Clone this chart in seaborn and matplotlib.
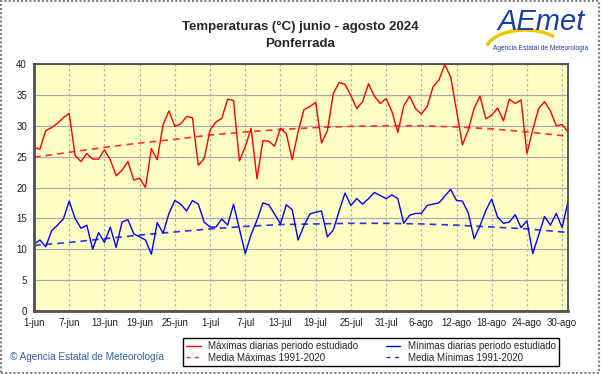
import numpy as np
import pandas as pd
import matplotlib
matplotlib.use('Agg')
import matplotlib.pyplot as plt
import seaborn as sns
from matplotlib.patches import Rectangle, Arc
from matplotlib.lines import Line2D

# ── Data ────────────────────────────────────────────────────
tmax = [26.5, 26.2, 29.2, 29.7, 30.4, 31.3, 32.0, 25.2, 24.2, 25.5,
        24.6, 24.6, 26.1, 24.5, 21.9, 22.8, 24.2, 21.2, 21.5, 20.0,
        26.3, 24.5, 30.2, 32.4, 29.9, 30.3, 31.5, 31.3, 23.6, 24.7,
        29.3, 30.6, 31.2, 34.3, 34.1, 24.3, 26.6, 29.6, 21.4, 27.6,
        27.5, 26.7, 29.6, 28.7, 24.5, 29.0, 32.6, 33.1, 33.8, 27.2,
        29.2, 35.2, 37.0, 36.7, 34.9, 32.8, 33.9, 36.8, 34.8, 33.6,
        34.4, 32.3, 28.9, 33.2, 34.8, 32.8, 31.9, 33.1, 36.3, 37.4,
        39.9, 37.9, 32.5, 26.9, 29.3, 32.8, 34.8, 31.1, 31.7, 32.9,
        30.8, 34.3, 33.6, 34.2, 25.5, 29.4, 32.8, 33.9, 32.4, 30.0,
        30.2, 29.0]
tmin = [10.8, 11.5, 10.4, 13.0, 13.9, 14.9, 17.8, 15.0, 13.4, 13.9,
        10.0, 12.7, 11.1, 13.6, 10.3, 14.4, 14.8, 12.5, 12.0, 11.5,
        9.2, 14.3, 12.6, 15.8, 17.9, 17.3, 16.2, 17.9, 17.3, 14.4,
        13.6, 13.6, 14.9, 13.9, 17.3, 13.3, 9.3, 12.4, 14.7, 17.5,
        17.2, 15.7, 14.1, 17.2, 16.4, 11.5, 13.8, 15.7, 16.0, 16.2,
        12.0, 13.1, 16.2, 19.1, 17.1, 18.2, 17.3, 18.2, 19.2, 18.7,
        18.2, 18.8, 18.2, 14.2, 15.5, 15.8, 15.8, 17.1, 17.3, 17.5,
        18.6, 19.7, 17.9, 17.8, 15.9, 11.7, 13.8, 16.3, 18.1, 15.2,
        14.2, 14.4, 15.6, 13.5, 14.6, 9.3, 12.3, 15.3, 13.9, 15.8,
        13.5, 17.7]

# climatological means 1991-2020, read at the tick days
clim_days = [0, 6, 12, 18, 24, 30, 36, 42, 48, 54, 60, 66, 72, 78, 84, 90, 91]
clim_max = [24.9, 25.7, 26.5, 27.2, 27.8, 28.5, 29.0, 29.4, 29.7, 29.9,
            30.0, 30.0, 29.8, 29.5, 29.0, 28.4, 28.3]
clim_min = [10.6, 11.1, 11.7, 12.3, 12.8, 13.3, 13.7, 14.0, 14.1, 14.2,
            14.2, 14.1, 13.9, 13.6, 13.3, 12.8, 12.7]

tick_labels = ['1-jun', '7-jun', '13-jun', '19-jun', '25-jun', '1-jul',
               '7-jul', '13-jul', '19-jul', '25-jul', '31-jul', '6-ago',
               '12-ago', '18-ago', '24-ago', '30-ago']

daily = pd.DataFrame({'day': np.arange(len(tmax)), 'tmax': tmax, 'tmin': tmin})
clim = pd.DataFrame({'day': clim_days, 'cmax': clim_max, 'cmin': clim_min})

# colours / styles
C_MAX, C_MIN = '#FF0000', '#0000FF'
C_CMAX, C_CMIN = '#FF3030', '#3030E8'
DASH = (0, (4, 3))

# ── Figure ──────────────────────────────────────────────────
sns.set_style('white')
plt.rcParams['font.family'] = ['Liberation Sans', 'DejaVu Sans']

W, H = 601, 374
fig = plt.figure(figsize=(W / 100, H / 100), dpi=100)
fig.patches.append(Rectangle((0.002, 0.003), 0.995, 0.993, transform=fig.transFigure,
                             fill=False, edgecolor='#808080', lw=1.5, ls=(0, (1, 1))))

ax = fig.add_axes([34 / W, 1 - 311 / H, 534 / W, 247 / H])
ax.set_facecolor('#FFFFC4')

sns.lineplot(data=clim, x='day', y='cmax', ax=ax, color=C_CMAX, lw=1.2, linestyle=DASH)
sns.lineplot(data=clim, x='day', y='cmin', ax=ax, color=C_CMIN, lw=1.2, linestyle=DASH)
sns.lineplot(data=daily, x='day', y='tmax', ax=ax, color=C_MAX, lw=1.0)
sns.lineplot(data=daily, x='day', y='tmin', ax=ax, color=C_MIN, lw=1.0)

ax.set_xlim(0, len(tmax) - 1)
ax.set_ylim(0, 40)
ax.set_yticks(range(0, 41, 5))
ax.set_xticks(range(0, 6 * len(tick_labels), 6))
ax.set_xticklabels(tick_labels)
ax.set_xlabel('')
ax.set_ylabel('')
ax.tick_params(axis='both', length=0, labelsize=7, colors='#202020')
ax.tick_params(axis='y', pad=5)
ax.tick_params(axis='x', pad=5)

ax.grid(axis='y', color='#A8A8B8', lw=0.9)
ax.grid(axis='x', color='#B0B0B0', lw=0.9, ls=(0, (2, 2)))
ax.set_axisbelow(True)
for side in ['left', 'bottom']:
    ax.spines[side].set_color('#505050')
    ax.spines[side].set_linewidth(2.0)
for side in ['top', 'right']:
    ax.spines[side].set_color('#404040')
    ax.spines[side].set_linewidth(1.2)
    ax.spines[side].set_visible(True)

# legend: max, media max | min, media min
handles = [Line2D([], [], color=C_MAX, lw=1.0),
           Line2D([], [], color=C_CMAX, lw=1.0, ls=(0, (3, 3))),
           Line2D([], [], color=C_MIN, lw=1.0),
           Line2D([], [], color=C_CMIN, lw=1.0, ls=(0, (3, 3)))]
labels = ['Máximas diarias periodo estudiado', 'Media Máximas 1991-2020',
          'Mínimas diarias periodo estudiado', 'Media Mínimas 1991-2020']
leg = fig.legend(handles, labels, ncol=2,
                 loc='center', bbox_to_anchor=(371 / W, 1 - 352 / H),
                 fontsize=7, frameon=True, fancybox=False, edgecolor='black',
                 framealpha=1, handlelength=1.5, columnspacing=2.8,
                 labelspacing=0.15, borderpad=0.35, handletextpad=0.8)
leg.get_frame().set_linewidth(1.0)

# titles
fig.text(300 / W, 1 - 27 / H, 'Temperaturas (°C) junio - agosto 2024',
         ha='center', va='center', fontsize=9.5, fontweight='bold')
fig.text(300 / W, 1 - 44 / H, 'Ponferrada', ha='center', va='center',
         fontsize=9.5, fontweight='bold')

# copyright
fig.text(10 / W, 1 - 357 / H, '© Agencia Estatal de Meteorología', ha='left',
         va='center', fontsize=7.2, color='#3060A8')

# logo
fig.patches.append(Arc((525 / W, 1 - 52 / H), 80 / W, 44 / H, theta1=40,
                       theta2=165, transform=fig.transFigure,
                       color='#F5C400', lw=2.5))
fig.text(541 / W, 1 - 22 / H, 'AEmet', ha='center', va='center', fontsize=21,
         style='italic', color='#1A3FA0')
fig.text(541 / W, 1 - 48 / H, 'Agencia Estatal de Meteorología', ha='center',
         va='center', fontsize=4.8, color='#1A3FA0')

fig.savefig('out.png', dpi=100)
